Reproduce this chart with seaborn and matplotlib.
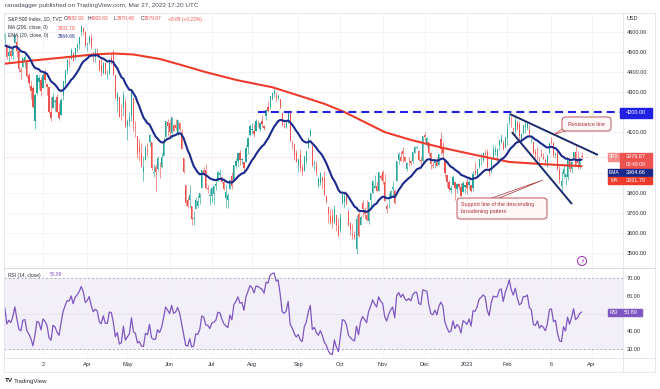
import numpy as np
import pandas as pd
import seaborn as sns
import matplotlib.pyplot as plt
from matplotlib.patches import Rectangle, FancyBboxPatch, Polygon, Circle
from matplotlib.lines import Line2D
from matplotlib.transforms import IdentityTransform

# ---------------- data: S&P 500 index (TVC), daily ----------------
holidays = ['2021-12-24', '2022-01-17', '2022-02-21', '2022-04-15', '2022-05-30',
            '2022-06-20', '2022-07-04', '2022-09-05', '2022-11-24', '2022-12-26',
            '2023-01-02', '2023-01-16', '2023-02-20', '2023-04-07']

# closes before the visible window (Dec 2021 - Jan 2022), only to seed EMA / RSI
warmup_closes = [4513.04, 4577.10, 4538.43, 4591.67, 4686.75, 4701.21, 4667.45, 4712.02, 4668.97, 4634.09,
                 4709.85, 4668.67, 4620.64, 4568.02, 4649.23, 4696.56, 4725.79, 4791.19, 4786.35, 4793.06,
                 4778.73, 4766.18,
                 4796.56, 4793.54, 4700.58, 4696.05, 4677.03, 4670.29, 4713.07, 4726.35, 4659.03, 4662.85,
                 4577.11, 4532.76, 4482.73, 4397.94, 4410.13, 4356.45, 4349.93, 4326.51, 4431.85, 4515.55]

# visible candles, 2022-02-01 .. 2023-03-27 (one line per month)
opens = [
    4519, 4566, 4535, 4482, 4505, 4480, 4547, 4553, 4506, 4412, 4429, 4456, 4456, 4385, 4333, 4324, 4155, 4298, 4354,
    4363, 4322, 4401, 4342, 4327, 4202, 4223, 4252, 4279, 4202, 4188, 4289, 4345, 4407, 4462, 4469, 4494, 4470, 4522, 4541, 4602, 4623, 4599,
    4540, 4547, 4573, 4495, 4475, 4494, 4462, 4437, 4397, 4449, 4385, 4390, 4473, 4489, 4385, 4256, 4279, 4187, 4222, 4253,
    4130, 4159, 4181, 4270, 4128, 4081, 4035, 3991, 3904, 3963, 4013, 4053, 4052, 3899, 3928, 3919, 3942, 3929, 3985, 4077, 4151,
    4149, 4095, 4137, 4135, 4097, 4148, 4101, 3975, 3838, 3763, 3765, 3733, 3666, 3716, 3734, 3775, 3821, 3913, 3913, 3825, 3785,
    3782, 3792, 3831, 3859, 3889, 3880, 3851, 3771, 3764, 3819, 3883, 3861, 3935, 3960, 3999, 3965, 3953, 3951, 4027, 4087,
    4113, 4105, 4107, 4154, 4115, 4156, 4134, 4181, 4227, 4225, 4269, 4290, 4280, 4273, 4266, 4195, 4134, 4126, 4153, 4198, 4034, 4041, 4000,
    3937, 3994, 3930, 3909, 3960, 4022, 4084, 4034, 3941, 3932, 3831, 3849, 3876, 3871, 3782, 3727, 3682, 3686, 3652, 3687, 3633,
    3610, 3741, 3754, 3776, 3707, 3647, 3595, 3591, 3520, 3691, 3638, 3746, 3703, 3689, 3657, 3762, 3799, 3825, 3834, 3808, 3881,
    3901, 3853, 3733, 3767, 3780, 3818, 3810, 3860, 3963, 3978, 4006, 3977, 3919, 3966, 3957, 3956, 4000, 4023, 4006, 3964, 3957,
    4087, 4041, 4053, 3996, 3934, 3947, 3954, 3940, 4069, 4016, 3959, 3890, 3853, 3811, 3840, 3854, 3816, 3843, 3829, 3805, 3829,
    3853, 3840, 3840, 3823, 3910, 3889, 3928, 3977, 3961, 3999, 4003, 3911, 3909, 3979, 4001, 3982, 4036, 4053, 4049, 4021,
    4071, 4158, 4137, 4120, 4106, 4153, 4144, 4068, 4097, 4127, 4120, 4114, 4077, 4052, 4002, 4019, 3973, 3992, 3977,
    3964, 3938, 3998, 4055, 4049, 3987, 3999, 3912, 3835, 3894, 3876, 3879, 3958, 3917, 3975, 4002, 3959, 3939, 3982.93,
]
highs = [
    4550, 4595, 4542, 4540, 4522, 4531, 4590, 4588, 4527, 4427, 4472, 4490, 4456, 4395, 4357, 4330, 4295, 4385, 4389,
    4375, 4401, 4417, 4343, 4327, 4277, 4299, 4268, 4292, 4247, 4271, 4358, 4413, 4465, 4481, 4522, 4501, 4521, 4546, 4575, 4637, 4627, 4604,
    4548, 4583, 4593, 4503, 4521, 4521, 4463, 4471, 4453, 4453, 4410, 4471, 4489, 4513, 4386, 4300, 4279, 4240, 4309, 4270,
    4169, 4200, 4308, 4270, 4158, 4082, 4069, 4050, 3981, 4039, 4047, 4090, 4052, 3945, 3944, 3982, 3955, 3999, 4075, 4158, 4169,
    4167, 4177, 4143, 4169, 4164, 4150, 4119, 3975, 3838, 3778, 3838, 3733, 3707, 3780, 3790, 3796, 3913, 3928, 3945, 3837, 3819,
    3829, 3832, 3870, 3910, 3919, 3880, 3874, 3839, 3796, 3863, 3903, 3940, 3975, 3999, 4012, 3975, 3954, 4039, 4078, 4140,
    4145, 4141, 4167, 4162, 4152, 4187, 4137, 4212, 4257, 4280, 4301, 4325, 4302, 4293, 4266, 4196, 4150, 4156, 4200, 4204, 4063, 4044, 4015,
    3970, 4018, 3942, 3987, 4010, 4076, 4119, 4038, 3961, 3959, 3880, 3901, 3876, 3907, 3790, 3727, 3716, 3717, 3736, 3687, 3671,
    3698, 3791, 3806, 3808, 3711, 3653, 3641, 3608, 3686, 3712, 3689, 3763, 3728, 3762, 3754, 3800, 3862, 3887, 3860, 3905, 3894,
    3911, 3894, 3750, 3796, 3814, 3859, 3818, 3958, 4001, 4009, 4028, 3983, 3955, 3979, 3963, 4004, 4034, 4034, 4013, 3976, 4081,
    4101, 4077, 4053, 4002, 3951, 3966, 3977, 3991, 4101, 4053, 3959, 3890, 3863, 3839, 3889, 3854, 3846, 3846, 3849, 3858, 3840,
    3879, 3874, 3840, 3906, 3951, 3920, 3970, 3997, 4003, 4015, 4017, 3923, 3973, 4039, 4033, 4019, 4061, 4094, 4063, 4077,
    4148, 4195, 4183, 4124, 4176, 4157, 4157, 4095, 4138, 4159, 4148, 4136, 4081, 4052, 4018, 4029, 3978, 4018, 3997,
    3972, 3991, 4048, 4079, 4051, 4001, 4018, 3935, 3906, 3938, 3894, 3965, 3959, 3956, 4009, 4039, 4007, 3973, 4003.83,
]
lows = [
    4484, 4544, 4465, 4451, 4471, 4465, 4547, 4478, 4402, 4365, 4429, 4423, 4374, 4327, 4267, 4222, 4115, 4287, 4318,
    4280, 4322, 4345, 4285, 4199, 4157, 4223, 4206, 4200, 4161, 4188, 4262, 4335, 4390, 4425, 4469, 4455, 4465, 4502, 4518, 4582, 4588, 4530,
    4507, 4540, 4514, 4450, 4450, 4477, 4408, 4382, 4393, 4392, 4367, 4390, 4443, 4385, 4268, 4201, 4175, 4163, 4181, 4129,
    4062, 4132, 4155, 4107, 4077, 3975, 3959, 3928, 3859, 3963, 3983, 4034, 3912, 3876, 3810, 3906, 3875, 3925, 3985, 4077, 4083,
    4074, 4074, 4107, 4110, 4081, 4107, 4017, 3900, 3735, 3725, 3722, 3640, 3637, 3716, 3722, 3743, 3821, 3889, 3820, 3800, 3739,
    3752, 3742, 3812, 3859, 3880, 3847, 3814, 3722, 3721, 3818, 3817, 3861, 3923, 3927, 3939, 3943, 3910, 3951, 3992, 4080,
    4094, 4079, 4107, 4128, 4107, 4128, 4113, 4163, 4201, 4219, 4262, 4277, 4253, 4261, 4219, 4130, 4123, 4120, 4147, 4057, 4017, 3965, 3954,
    3903, 3907, 3886, 3906, 3944, 4022, 4084, 3932, 3912, 3889, 3827, 3840, 3822, 3789, 3750, 3648, 3645, 3623, 3641, 3610, 3584,
    3604, 3741, 3723, 3740, 3632, 3588, 3568, 3570, 3492, 3577, 3638, 3680, 3667, 3658, 3641, 3733, 3799, 3825, 3803, 3808, 3864,
    3843, 3759, 3699, 3721, 3773, 3783, 3745, 3860, 3945, 3957, 3954, 3955, 3907, 3933, 3940, 3947, 3999, 4020, 3956, 3937, 3943,
    4058, 4026, 3984, 3919, 3923, 3923, 3933, 3937, 3994, 3966, 3879, 3828, 3810, 3796, 3838, 3764, 3798, 3813, 3783, 3805, 3800,
    3795, 3816, 3802, 3809, 3890, 3878, 3925, 3937, 3955, 3985, 3925, 3885, 3898, 3971, 3990, 3949, 4013, 4048, 4015, 4021,
    4037, 4141, 4128, 4094, 4089, 4111, 4061, 4060, 4092, 4095, 4114, 4089, 4048, 3995, 3973, 3962, 3943, 3977, 3969,
    3939, 3928, 3996, 4044, 3980, 3974, 3913, 3847, 3809, 3874, 3839, 3864, 3901, 3899, 3971, 3936, 3919, 3917, 3970.49,
]
closes = [
    4546.54, 4589.38, 4477.44, 4500.53, 4483.87, 4521.54, 4587.18, 4504.08, 4418.64, 4401.67, 4471.07, 4475.01, 4380.26, 4348.87, 4304.76, 4225.50, 4288.70, 4384.65, 4373.94,
    4306.26, 4386.54, 4363.49, 4328.87, 4201.09, 4170.70, 4277.88, 4259.52, 4204.31, 4173.11, 4262.45, 4357.86, 4411.67, 4463.12, 4461.18, 4511.61, 4456.24, 4520.16, 4543.06, 4575.52, 4631.60, 4602.45, 4530.41,
    4545.86, 4582.64, 4525.12, 4481.15, 4500.21, 4488.28, 4412.53, 4397.45, 4446.59, 4392.59, 4391.69, 4462.21, 4459.45, 4393.66, 4271.78, 4296.12, 4175.20, 4183.96, 4287.50, 4131.93,
    4155.38, 4175.48, 4300.17, 4146.87, 4123.34, 3991.24, 4001.05, 3935.18, 3930.08, 4023.89, 4008.01, 4088.85, 3923.68, 3900.79, 3901.36, 3973.75, 3941.48, 3978.73, 4057.84, 4158.24, 4132.15,
    4101.23, 4176.82, 4108.54, 4121.43, 4160.68, 4115.77, 4017.82, 3900.86, 3749.63, 3735.48, 3789.99, 3666.77, 3674.84, 3764.79, 3759.89, 3795.73, 3911.74, 3900.11, 3821.55, 3818.83, 3785.38,
    3825.33, 3831.39, 3845.08, 3902.62, 3899.38, 3854.43, 3818.80, 3801.78, 3790.38, 3863.16, 3830.85, 3936.69, 3959.90, 3998.95, 3961.63, 3966.84, 3921.05, 4023.61, 4072.43, 4130.29,
    4118.63, 4091.19, 4155.17, 4151.94, 4145.19, 4140.06, 4122.47, 4210.24, 4207.27, 4280.15, 4297.14, 4305.20, 4274.04, 4283.74, 4228.48, 4137.99, 4128.73, 4140.77, 4199.12, 4057.66, 4030.61, 3986.16, 3955.00,
    3966.85, 3924.26, 3908.19, 3979.87, 4006.18, 4067.36, 4110.41, 3932.69, 3946.01, 3901.35, 3873.33, 3899.89, 3855.93, 3789.93, 3757.99, 3693.23, 3655.04, 3647.29, 3719.04, 3640.47, 3585.62,
    3678.43, 3790.93, 3783.28, 3744.52, 3639.66, 3612.39, 3588.84, 3577.03, 3669.91, 3583.07, 3677.95, 3719.98, 3695.16, 3665.78, 3752.75, 3797.34, 3859.11, 3830.60, 3807.30, 3901.06, 3871.98,
    3856.10, 3759.69, 3719.89, 3770.55, 3806.80, 3828.11, 3748.57, 3956.37, 3992.93, 3957.25, 3991.73, 3958.79, 3946.56, 3965.34, 3949.94, 4003.58, 4027.26, 4026.12, 3963.94, 3957.63, 4080.11,
    4076.57, 4071.70, 3998.84, 3941.26, 3933.92, 3963.51, 3934.38, 3990.56, 4019.65, 3995.32, 3895.75, 3852.36, 3817.66, 3821.62, 3878.44, 3822.39, 3844.82, 3829.25, 3783.22, 3849.28, 3839.50,
    3824.14, 3852.97, 3808.10, 3895.08, 3892.09, 3919.25, 3969.61, 3983.17, 3999.09, 3990.97, 3928.86, 3898.85, 3972.61, 4019.81, 4016.95, 4016.22, 4060.43, 4070.56, 4017.77, 4076.60,
    4119.21, 4179.76, 4136.48, 4111.08, 4164.00, 4117.86, 4081.50, 4090.46, 4137.29, 4136.13, 4147.60, 4090.41, 4079.09, 3997.34, 3991.05, 4012.32, 3970.04, 3982.24, 3970.15,
    3951.39, 3981.35, 4045.64, 4048.42, 3986.37, 3992.01, 3918.32, 3861.59, 3855.76, 3919.29, 3891.93, 3960.28, 3916.64, 3951.57, 4002.87, 3936.97, 3948.72, 3970.99, 3979.87,
]

# 200-day MA (trading days counted from 2022-03-02)
ma200_day = [-20, -5, 12, 25, 35, 45, 58, 68, 81, 97, 114, 127, 140, 150, 160, 170, 183, 199, 216, 232, 249, 268]
ma200_val = [4442, 4459, 4476, 4489, 4494, 4489, 4467, 4439, 4401, 4360, 4326, 4285, 4243, 4202, 4152, 4102,
             4063, 4023, 3986, 3953, 3942, 3931.79]

# drawn lines (trading day, price)
resistance_day = [232.3, 276.1]
resistance_val = [4192, 3988]
support_day = [233.3, 263.2]
support_val = [4102, 3743]
level_4200_day = [107, 290]

price_ticks = list(range(3500, 4601, 100))
hidden_price_labels = [3900, 4000, 4200]   # covered by the tags on the price scale
rsi_ticks = [30, 40, 60, 70]

tick_dates = ['2022-03-02', '2022-04-01', '2022-05-02', '2022-06-01', '2022-07-01', '2022-08-01', '2022-09-01',
              '2022-10-03', '2022-11-01', '2022-12-01', '2023-01-03', '2023-02-01', '2023-03-06', '2023-04-03']
tick_labels = ['2', 'Apr', 'May', 'Jun', 'Jul', 'Aug', 'Sep', 'Oct', 'Nov', 'Dec', '2023', 'Feb', '6', 'Apr']

# ---------------- derived series ----------------
cal = pd.bdate_range('2021-12-01', '2023-04-28', freq='C', holidays=holidays)
origin = cal.get_loc(pd.Timestamp('2022-03-02'))
all_close = pd.Series(warmup_closes + closes)
day_all = np.arange(len(all_close)) - origin
ema = all_close.ewm(span=20, adjust=False).mean()
delta = all_close.diff().fillna(0)
gain = delta.clip(lower=0).ewm(alpha=1 / 14, adjust=False).mean()
loss = (-delta.clip(upper=0)).ewm(alpha=1 / 14, adjust=False).mean()
rsi = 100 - 100 / (1 + gain / loss)
ind = pd.DataFrame({'day': day_all, 'ema': ema, 'rsi': rsi})
ma = pd.DataFrame({'day': ma200_day, 'ma': ma200_val})

day = day_all[len(warmup_closes):]
o, h, l, c = (np.array(v, dtype=float) for v in (opens, highs, lows, closes))
tick_pos = [cal.get_loc(pd.Timestamp(d)) - origin for d in tick_dates]

# ---------------- style ----------------
sns.set_theme(style='white')
plt.rcParams['font.family'] = ['Liberation Sans', 'DejaVu Sans']
GREEN, RED = '#26a69a', '#ef5350'
NAVY, MARED = '#1a2a8c', '#ef3b2c'
PURPLE = '#7e57c2'
TXT = '#2a2e39'
GRID = '#f0f3fa'
BORDER = '#e0e3eb'

W, H = 660, 389
fig = plt.figure(figsize=(W / 100, H / 100), dpi=100)
PX = IdentityTransform()


def ptext(x, y, s, **kw):
    kw.setdefault('va', 'center')
    fig.text(x, H - y, s, transform=PX, **kw)


def prect(x0, y0, x1, y1, **kw):
    fig.add_artist(Rectangle((x0, H - y1), x1 - x0, y1 - y0, transform=PX, **kw))


def pline(xs, ys, **kw):
    fig.add_artist(Line2D(xs, [H - y for y in ys], transform=PX, **kw))


ax = fig.add_axes([4 / W, 1 - 268 / H, 619 / W, 255 / H])
ax_rsi = fig.add_axes([4 / W, 1 - 358 / H, 619 / W, 90 / H], sharex=ax)

# ---------------- price panel ----------------
cols = np.where(c >= o, GREEN, RED)
ax.vlines(day, l, h, colors=cols, lw=0.45, zorder=2)
ax.bar(day, np.maximum(np.abs(c - o), 2.5), bottom=np.minimum(o, c), width=0.58, color=cols, lw=0, zorder=3)

sns.lineplot(data=ma, x='day', y='ma', ax=ax, color=MARED, lw=1.5, estimator=None, legend=False, zorder=4)
sns.lineplot(data=ind, x='day', y='ema', ax=ax, color=NAVY, lw=1.5, estimator=None, legend=False, zorder=5)

ax.plot(level_4200_day, [4200, 4200], color='#2121e6', lw=1.5, dashes=(3.8, 2.4), zorder=6)
ax.plot(resistance_day, resistance_val, color='#1c2a6b', lw=1.4, zorder=6, solid_capstyle='butt')
ax.plot(support_day, support_val, color='#1c2a6b', lw=1.4, zorder=6, solid_capstyle='butt')
ax.axhline(closes[-1], color=RED, lw=0.5, ls=(0, (1, 2)), alpha=0.6, zorder=1)

ax.set_xlim(-19.4, 288.6)
ax.set_ylim(3424, 4696)
ax.set_yticks(price_ticks)
ax.yaxis.set_major_formatter(lambda v, p: '' if round(v) in hidden_price_labels else f'{v:.2f}')
ax.yaxis.tick_right()
ax.tick_params(axis='y', length=0, pad=2.9, labelsize=4, labelcolor=TXT)
ax.tick_params(axis='x', bottom=False, labelbottom=False)
ax.set_xticks(tick_pos)
ax.grid(True, color=GRID, lw=0.6)
ax.set_xlabel('')
ax.set_ylabel('')
for s in ax.spines.values():
    s.set_visible(False)

# ---------------- RSI panel ----------------
ax_rsi.axhspan(30, 70, color=PURPLE, alpha=0.09, lw=0, zorder=0)
for lvl in (70, 30):
    ax_rsi.axhline(lvl, color='#9598a1', lw=0.5, dashes=(3, 3), zorder=1)
ax_rsi.axhline(50, color='#9598a1', lw=0.4, dashes=(1, 2), alpha=0.6, zorder=1)
sns.lineplot(data=ind, x='day', y='rsi', ax=ax_rsi, color=PURPLE, lw=0.9, estimator=None, legend=False, zorder=3)
ax_rsi.set_ylim(24.9, 75.8)
ax_rsi.set_yticks(rsi_ticks)
ax_rsi.yaxis.set_major_formatter(lambda v, p: f'{v:.2f}')
ax_rsi.yaxis.tick_right()
ax_rsi.tick_params(axis='y', length=0, pad=2.9, labelsize=4, labelcolor=TXT)
ax_rsi.set_xticks(tick_pos)
ax_rsi.set_xticklabels(tick_labels)
ax_rsi.tick_params(axis='x', length=0, pad=3.2, labelsize=4, labelcolor=TXT)
ax_rsi.grid(True, color=GRID, lw=0.6)
ax_rsi.set_xlabel('')
ax_rsi.set_ylabel('')
for s in ax_rsi.spines.values():
    s.set_visible(False)

# ---------------- frame ----------------
pline([4, 655], [13, 13], color=BORDER, lw=0.6)
pline([4, 655], [268, 268], color='#d1d4dc', lw=0.6)
pline([4, 655], [358, 358], color=BORDER, lw=0.6)
pline([4, 655], [372, 372], color=BORDER, lw=0.6)
pline([623, 623], [13, 372], color=BORDER, lw=0.6)
pline([4, 4], [13, 372], color=BORDER, lw=0.6)
pline([655, 655], [13, 372], color=BORDER, lw=0.6)

# ---------------- header / legends ----------------
LEG = 3.5
ptext(5, 5, 'ranadagger published on TradingView.com, Mar 27, 2023 17:20 UTC', fontsize=4.6, color='#4a4e59')
ptext(8, 19, 'S&P 500 Index, 1D, TVC', fontsize=LEG, color=TXT)
for xx, k, v in [(64, 'O', '3982.93'), (88, 'H', '4003.83'), (114, 'L', '3970.49'), (141, 'C', '3979.87')]:
    ptext(xx, 19, k, fontsize=LEG, color=TXT)
    ptext(xx + 3.3, 19, v, fontsize=LEG, color=RED)
ptext(168, 19, '+8.89 (+0.22%)', fontsize=LEG, color=RED)
ptext(8, 28, 'MA (200, close, 0)', fontsize=LEG, color=TXT)
ptext(58, 28, '3931.79', fontsize=LEG, color=RED)
ptext(8, 36, 'EMA (20, close, 0)', fontsize=LEG, color=TXT)
ptext(58, 36, '3964.66', fontsize=LEG, color=NAVY)
ptext(8, 275, 'RSI (14, close)', fontsize=LEG, color=TXT)
ptext(50, 275, '50.89', fontsize=LEG, color=PURPLE)
ptext(627, 19, 'USD', fontsize=4, color=TXT)

# ---------------- price tags on the right ----------------
prect(620, 108, 652, 118, color='#2121e6', zorder=5)
ptext(636, 113, '4200.00', fontsize=4, color='white', ha='center', zorder=6)
prect(608, 153, 620, 161, color='#f48a8a', zorder=5)
ptext(614, 157, 'SPX', fontsize=3.6, color='white', ha='center', zorder=6)
prect(620, 153, 652, 168, color=RED, zorder=5)
ptext(636, 157, '3979.87', fontsize=4, color='white', ha='center', zorder=6)
ptext(636, 164.5, '02:49:09', fontsize=3.6, color='white', ha='center', zorder=6)
prect(608, 169, 620, 176.5, color=NAVY, zorder=5)
ptext(614, 172.8, 'EMA', fontsize=3.6, color='white', ha='center', zorder=6)
prect(620, 169, 652, 176.5, color=NAVY, zorder=5)
ptext(636, 172.8, '3964.66', fontsize=4, color='white', ha='center', zorder=6)
prect(608, 176.5, 620, 184, color=MARED, zorder=5)
ptext(614, 180.3, 'MA', fontsize=3.6, color='white', ha='center', zorder=6)
prect(620, 176.5, 652, 184, color=MARED, zorder=5)
ptext(636, 180.3, '3931.79', fontsize=4, color='white', ha='center', zorder=6)
prect(608, 308.5, 620, 316, color=PURPLE, zorder=5)
ptext(614, 312.3, 'RSI', fontsize=3.6, color='white', ha='center', zorder=6)
prect(620, 308.5, 642, 316, color=PURPLE, zorder=5)
ptext(631, 312.3, '50.89', fontsize=4, color='white', ha='center', zorder=6)

# ---------------- callouts ----------------
EDGE, FILL, CTXT = '#b2393e', '#fff7f7', '#a8323a'
fig.add_artist(Polygon([(565, H - 127), (569, H - 130), (555, H - 134)], closed=True, transform=PX,
                       fc=FILL, ec=EDGE, lw=0.5, zorder=4))
fig.add_artist(FancyBboxPatch((562, H - 131), 49, 14, boxstyle='round,pad=0,rounding_size=3', transform=PX,
                              fc=FILL, ec=EDGE, lw=0.6, zorder=5))
ptext(586.5, 124, 'Resistance line', fontsize=3.9, color=CTXT, ha='center', zorder=6)

fig.add_artist(Polygon([(489, H - 199), (497, H - 199), (543, H - 180)], closed=True, transform=PX,
                       fc=FILL, ec=EDGE, lw=0.5, zorder=4))
fig.add_artist(FancyBboxPatch((457, H - 219), 90, 21, boxstyle='round,pad=0,rounding_size=3', transform=PX,
                              fc=FILL, ec=EDGE, lw=0.6, zorder=5))
ptext(461, 204.5, 'Support line of the descending', fontsize=3.9, color=CTXT, zorder=6)
ptext(461, 211.5, 'broadening pattern', fontsize=3.9, color=CTXT, zorder=6)

# lightning marker and footer logo
fig.add_artist(Circle((582, H - 261), 4.5, transform=PX, fc='white', ec='#9c27b0', lw=0.7, zorder=5))
ptext(582, 261, '\u26a1', fontsize=4, color='#9c27b0', ha='center', zorder=6, family='DejaVu Sans')
ptext(5, 381, 'TV', fontsize=4.6, color='#131722', fontweight='bold')
ptext(14, 381, 'TradingView', fontsize=4.4, color='#2a2e39')

fig.savefig('out.png', dpi=100)
